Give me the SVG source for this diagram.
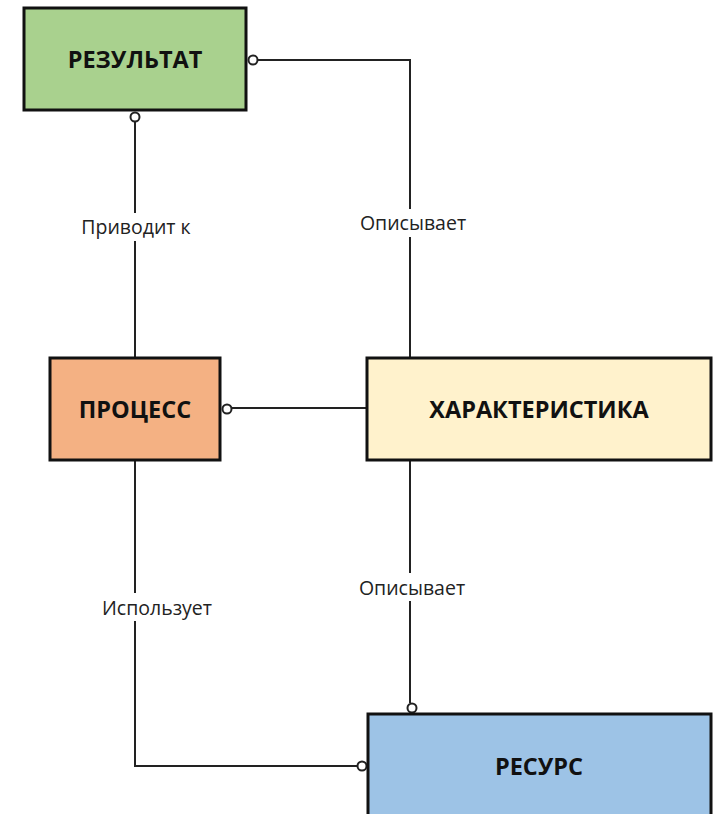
<svg xmlns="http://www.w3.org/2000/svg" width="718" height="814" viewBox="0 0 718 814">
<style>
.box{stroke:#111;stroke-width:3}
.t{font-family:"Open Sans","Liberation Sans",sans-serif;font-weight:bold;font-size:23.5px;fill:#111;text-anchor:middle;dominant-baseline:central}
.lbl{font-family:"Open Sans","Liberation Sans",sans-serif;font-size:19.5px;fill:#222;text-anchor:middle;dominant-baseline:central}
.ln{stroke:#222;stroke-width:2;fill:none}
.c{fill:#fff;stroke:#222;stroke-width:2}
.bg{fill:#fff}
</style>
<rect width="718" height="814" fill="#fff"/>
<g id="connectors">
<path class="ln" d="M257,60 H410 V358"/>
<path class="ln" d="M135,121 V358"/>
<path class="ln" d="M231,408 H367"/>
<path class="ln" d="M410,460 V703"/>
<path class="ln" d="M135,460 V766 H358"/>
<rect class="bg" x="70" y="213" width="132" height="28"/>
<rect class="bg" x="350" y="209" width="125" height="28"/>
<rect class="bg" x="90" y="593" width="135" height="28"/>
<rect class="bg" x="350" y="573" width="125" height="28"/>
<text class="lbl" x="136" y="226">Приводит к</text>
<text class="lbl" x="413" y="222">Описывает</text>
<text class="lbl" x="157" y="607">Использует</text>
<text class="lbl" x="412" y="587">Описывает</text>
<circle class="c" cx="253" cy="60" r="4.5"/>
<circle class="c" cx="135" cy="117" r="4.5"/>
<circle class="c" cx="227" cy="409" r="4.5"/>
<circle class="c" cx="412" cy="708" r="4.5"/>
<circle class="c" cx="362" cy="766" r="4.5"/>
</g>
<g id="rezultat">
<rect class="box" x="24" y="8" width="222" height="102" fill="#A9D18E"/>
<text class="t" x="135" y="59">РЕЗУЛЬТАТ</text>
</g>
<g id="process">
<rect class="box" x="50" y="358" width="170" height="102" fill="#F4B183"/>
<text class="t" x="135" y="409">ПРОЦЕСС</text>
</g>
<g id="harakteristika">
<rect class="box" x="367" y="358" width="344" height="102" fill="#FFF2CC"/>
<text class="t" x="539" y="409">ХАРАКТЕРИСТИКА</text>
</g>
<g id="resurs">
<rect class="box" x="368" y="714" width="343" height="110" fill="#9DC3E6"/>
<text class="t" x="539" y="766">РЕСУРС</text>
</g>
</svg>
